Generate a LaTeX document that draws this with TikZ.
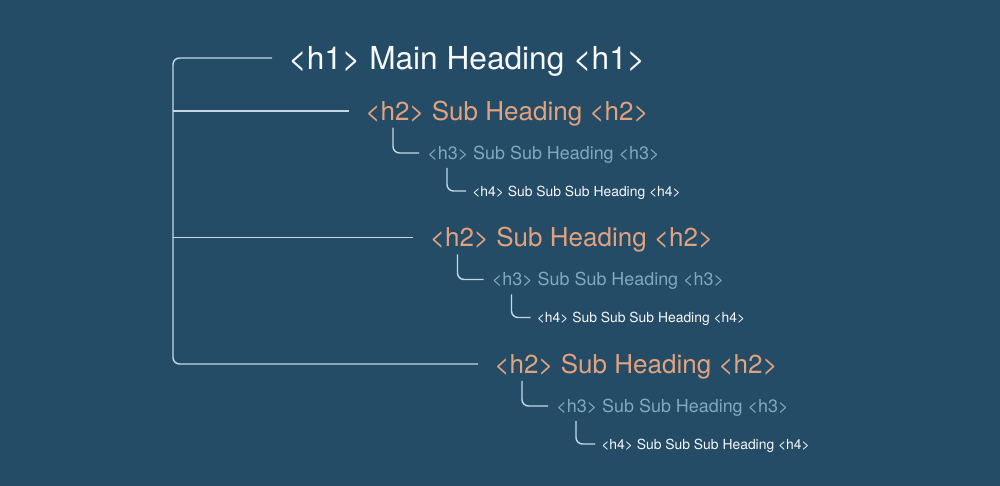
\documentclass[tikz,border=0pt]{standalone}
\usepackage{fontspec}
\setmainfont{TeX Gyre Heros}
\usetikzlibrary{positioning}
\definecolor{hbg}{RGB}{36,76,102}
\definecolor{hwhite}{RGB}{246,248,250}
\definecolor{horange}{RGB}{226,162,126}
\definecolor{hteal}{RGB}{127,170,192}
\definecolor{hline}{RGB}{196,216,228}
\tikzset{
  head/.style={anchor=west, inner sep=0pt, text depth=0pt},
  hone/.style={head, font=\fontsize{18}{20}\selectfont, text height=13pt, color=hwhite},
  htwo/.style={head, font=\fontsize{14.8}{17}\selectfont, text height=10.7pt, color=horange},
  hthree/.style={head, font=\fontsize{10.2}{12}\selectfont, text height=7.3pt, color=hteal},
  hfour/.style={head, font=\fontsize{7.9}{10}\selectfont, text height=5.7pt, color=hwhite},
  tree/.style={draw=hline, line width=0.8pt, rounded corners=1.3mm},
  sub/.style={tree, shorten >=1.6mm},
}
\begin{document}
\begin{tikzpicture}[x=0.2mm, y=-0.2mm]
\fill[hbg] (0,0) rectangle (1000,486);
\useasboundingbox (0,0) rectangle (1000,486);
\node[hone] (h1) at (288,58) {<h1> Main Heading <h1>};
% first section
\node[htwo] (h2a) at (365,111) {<h2> Sub Heading <h2>};
\node[hthree] (h3a) at (427,153) {<h3> Sub Sub Heading <h3>};
\node[hfour] (h4a) at (472,191) {<h4> Sub Sub Sub Heading <h4>};
% second section
\node[htwo] (h2b) at (429.5,237.5) {<h2> Sub Heading <h2>};
\node[hthree] (h3b) at (491.5,279.5) {<h3> Sub Sub Heading <h3>};
\node[hfour] (h4b) at (536.5,317.5) {<h4> Sub Sub Sub Heading <h4>};
% third section
\node[htwo] (h2c) at (494,364) {<h2> Sub Heading <h2>};
\node[hthree] (h3c) at (556,406) {<h3> Sub Sub Heading <h3>};
\node[hfour] (h4c) at (601,444) {<h4> Sub Sub Sub Heading <h4>};
\coordinate (trunk) at (173,240);
\draw[tree, shorten <=3.2mm, shorten >=3.2mm] (h1.west) -| (trunk) |- (h2c.west);
\draw[tree, shorten >=3.3mm] (h2a.west -| trunk) -- (h2a.west);
\draw[tree, shorten >=3.3mm] (h2b.west -| trunk) -- (h2b.west);
\foreach \s in {a,b,c}{
  \draw[sub] ([shift={(28,7)}]h2\s.south west) |- (h3\s.west);
  \draw[sub, shorten >=1.2mm] ([shift={(20,8)}]h3\s.south west) |- (h4\s.west);
}
\end{tikzpicture}
\end{document}
